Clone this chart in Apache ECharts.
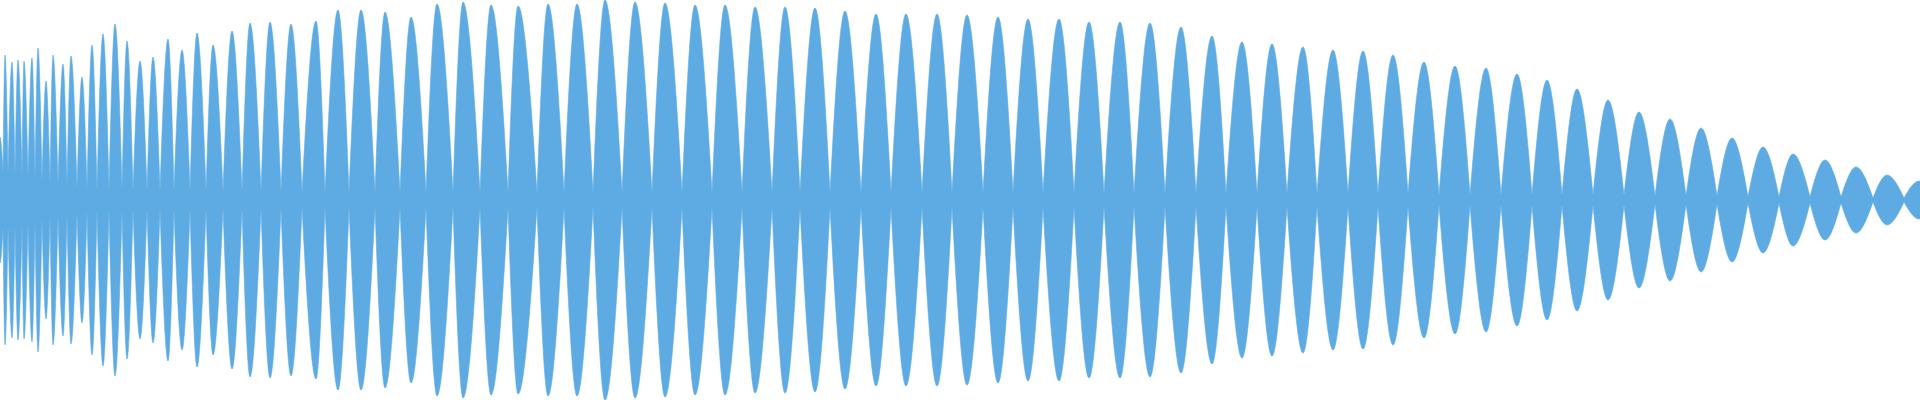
<!DOCTYPE html>
<html>
<head>
<meta charset="utf-8">
<script src="https://cdn.jsdelivr.net/npm/echarts@6/dist/echarts.min.js"></script>
<style>
  html, body { margin: 0; padding: 0; background: #ffffff; }
  #chart { width: 1920px; height: 400px; }
</style>
</head>
<body>
<div id="chart"></div>
<script>
// Lobe centres (sample index) and their peak amplitude
const lobeX = [0, 5, 12, 18, 24, 32, 38, 46, 53, 63, 71, 82, 92, 103, 115, 127, 140, 153, 168, 182,
  197, 213, 232, 250, 270, 291, 316, 338, 361, 385, 411, 437, 463, 491, 518, 548, 577, 605, 635, 665,
  695, 725, 755, 785, 815, 845, 876, 906, 937, 967, 998, 1028, 1059, 1089, 1120, 1150, 1181, 1212, 1242, 1272,
  1303, 1333, 1363, 1393, 1424, 1455, 1486, 1517, 1547, 1577, 1608, 1639, 1670, 1701, 1732, 1763, 1793, 1825, 1856, 1887,
  1919];
const lobeAmp = [63, 145, 138, 140, 139, 142, 152, 119, 145, 136, 144, 123, 155, 166, 176, 159, 139, 143, 161, 150,
  167, 155, 169, 177, 178, 176, 179, 190, 190, 188, 183, 196, 198, 195, 194, 196, 196, 200, 198, 197,
  195, 195, 193, 193, 192, 189, 186, 186, 186, 185, 183, 181, 181, 178, 178, 177, 173, 164, 158, 156,
  153, 150, 149, 145, 138, 134, 132, 126, 120, 111, 100, 88, 81, 72, 62, 53, 46, 40, 33, 25,
  19];
// Crossing points between lobes (first and last lie just outside the view)
const crossX = [-3, 3, 8, 15, 22, 28, 35, 42, 50, 58, 67, 77, 87, 97, 109, 122, 133, 147, 160, 174, 190,
  206, 223, 242, 261, 281, 302, 325, 349, 375, 400, 426, 453, 480, 508, 537, 564, 593, 622, 652, 682,
  712, 742, 772, 800, 830, 861, 891, 922, 952, 983, 1013, 1043, 1074, 1104, 1134, 1165, 1196, 1226, 1257, 1287,
  1317, 1348, 1378, 1408, 1439, 1470, 1501, 1532, 1562, 1593, 1624, 1655, 1686, 1717, 1748, 1779, 1810, 1841, 1873, 1904,
  1934];
// Half-height of the neck left at each crossing
const neckAmp = [30, 28, 26, 25, 24, 22, 20, 18, 16, 15, 13, 12, 11, 10, 10, 10, 9, 9, 9, 9, 9,
  8, 8, 8, 8, 8, 7, 7, 7, 7, 7, 7, 7, 7, 7, 7, 7, 7, 7, 7, 7,
  7, 7, 7, 7, 7, 7, 7, 7, 7, 7, 7, 7, 7, 6, 6, 6, 6, 6, 6, 6,
  6, 6, 6, 6, 5, 5, 5, 5, 5, 5, 5, 4, 4, 4, 3, 3, 3, 3, 2, 2,
  2];

const COLOR = '#5dabe2';

// one item per lobe: [left crossing, centre, right crossing, peak, left neck, right neck]
const lobes = lobeX.map((x, i) => [crossX[i], x, crossX[i + 1], lobeAmp[i], neckAmp[i], neckAmp[i + 1]]);

function renderLobe(params, api) {
  const xl = api.value(0), xc = api.value(1), xr = api.value(2);
  const a = api.value(3), nl = api.value(4), nr = api.value(5);
  const L = api.coord([xl, nl]), C = api.coord([xc, a]), R = api.coord([xr, nr]);
  const Lb = api.coord([xl, -nl]), Cb = api.coord([xc, -a]), Rb = api.coord([xr, -nr]);
  const k1 = 0.326, k2 = 0.674, ky = 0.512;
  const f = v => v.toFixed(2);
  const w1 = C[0] - L[0], w2 = R[0] - C[0];
  let d = 'M' + f(L[0]) + ' ' + f(L[1]);
  d += ' C' + f(L[0] + k1 * w1) + ' ' + f(L[1] + ky * (C[1] - L[1])) + ' ' + f(L[0] + k2 * w1) + ' ' + f(C[1]) + ' ' + f(C[0]) + ' ' + f(C[1]);
  d += ' C' + f(C[0] + k1 * w2) + ' ' + f(C[1]) + ' ' + f(R[0] - k1 * w2) + ' ' + f(R[1] + ky * (C[1] - R[1])) + ' ' + f(R[0]) + ' ' + f(R[1]);
  d += ' L' + f(Rb[0]) + ' ' + f(Rb[1]);
  d += ' C' + f(Rb[0] - k1 * w2) + ' ' + f(Rb[1] + ky * (Cb[1] - Rb[1])) + ' ' + f(C[0] + k1 * w2) + ' ' + f(Cb[1]) + ' ' + f(Cb[0]) + ' ' + f(Cb[1]);
  d += ' C' + f(L[0] + k2 * w1) + ' ' + f(Cb[1]) + ' ' + f(Lb[0] + k1 * w1) + ' ' + f(Lb[1] + ky * (Cb[1] - Lb[1])) + ' ' + f(Lb[0]) + ' ' + f(Lb[1]);
  d += ' Z';
  return {
    type: 'path',
    shape: { pathData: d },
    style: { fill: COLOR, stroke: COLOR, lineWidth: 0.6 }
  };
}

const chart = echarts.init(document.getElementById('chart'), null, { renderer: 'canvas' });
chart.setOption({
  animation: false,
  backgroundColor: '#ffffff',
  grid: { left: 0, right: 0, top: 0, bottom: 0, containLabel: false },
  xAxis: { type: 'value', min: 0, max: 1920, show: false },
  yAxis: { type: 'value', min: -200, max: 200, show: false },
  series: [{
    type: 'custom',
    renderItem: renderLobe,
    data: lobes,
    encode: { x: [0, 1, 2], y: 3 },
    clip: true,
    silent: true
  }]
});
</script>
</body>
</html>
